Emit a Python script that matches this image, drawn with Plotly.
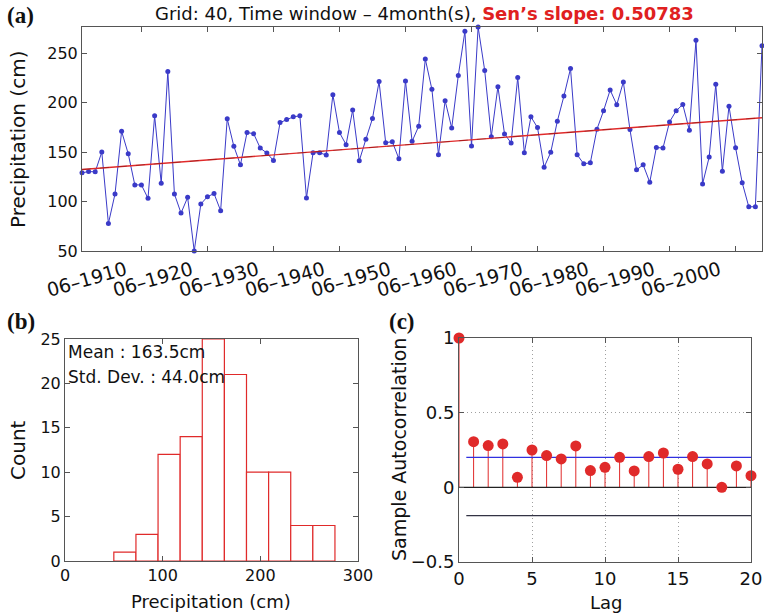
import plotly.graph_objects as go

# ---------------- data ----------------
years = list(range(1901, 2005))
precip = [
    129, 130.3, 130, 150, 77.8, 107.6, 171, 148.3, 116.8, 116.8, 103.2, 186.6, 118.5, 231.4, 107.6, 88.3, 104.2, 50,
    97.5, 104.9, 108, 90.7, 183.6, 155.8, 137.1, 169.7, 168.6, 154, 149, 141.5, 179.8, 182.9, 185.6, 186.6, 103.6,
    149.3, 149.3, 147, 208, 169.7, 157.5, 192.4, 141.2, 162.9, 183.9, 221.2, 159.5, 160.5, 143.2, 221.9, 160.8, 176.1, 244,
    213.4, 147.3, 201.9, 174.4, 227.3, 272, 156.1, 276.4, 232.4, 165.6, 216.1, 168.3, 159.2, 225.3, 149.3, 185.6, 174.7,
    134.7, 149.7, 181.2, 206.6, 234.4, 147.3, 138.1, 139.2, 173.1, 191.7, 212.7, 197.8, 220.8, 172.7, 132, 137.1, 119.5,
    154.7, 154, 180.5, 191.7, 198.1, 172, 262.9, 117.8, 144.9, 218.5, 130.7, 196.4, 154.4, 119.1, 94.7, 94.7, 257.5,
]
sen_slope = 0.50783
trend_start = 132.4
tick_years = list(range(1910, 2001, 10))
y_ticks_a = [50, 100, 150, 200, 250]

hist_counts = [1, 3, 12, 14, 25, 21, 10, 10, 4, 4]
mean_txt = "Mean : 163.5cm"
std_txt = "Std. Dev. : 44.0cm"

lags = list(range(21))
acf = [1.0, 0.306, 0.28, 0.291, 0.067, 0.25, 0.213, 0.19, 0.277, 0.112, 0.134,
       0.201, 0.11, 0.206, 0.23, 0.121, 0.206, 0.157, 0.0, 0.143, 0.078]
bound_upper = 0.2
bound_lower = -0.19

# ---------------- helpers ----------------
W, H = 764, 615
def fx(p):
    return p / W
def fy(p):
    return 1 - p / H

FONT = "DejaVu Sans"
BLUE = "#3a3ac8"
RED = "#e02a2a"
AX = "#555555"

dates = [f"{y}-06-01" for y in years]
tick_dates = [f"{y}-06-01" for y in tick_years]
tick_text = [f"06–{y}" for y in tick_years]
trend = [trend_start + sen_slope * (y - years[0]) for y in years]

fig = go.Figure()

# (a) time series
fig.add_trace(go.Scatter(x=dates, y=precip, mode="lines+markers",
                         line=dict(color=BLUE, width=1), marker=dict(color=BLUE, size=5),
                         cliponaxis=False, xaxis="x", yaxis="y"))
fig.add_trace(go.Scatter(x=dates, y=trend, mode="lines", line=dict(color=RED, width=1.4),
                         xaxis="x", yaxis="y"))
fig.add_trace(go.Scatter(x=dates, y=trend, mode="lines",
                         line=dict(color="rgba(60,0,0,0.45)", width=0.7, dash="dash"),
                         xaxis="x", yaxis="y"))

# (b) histogram
lo, hi = min(precip), max(precip)
bw = (hi - lo) / len(hist_counts)
centers = [lo + bw * (i + 0.5) for i in range(len(hist_counts))]
fig.add_trace(go.Bar(x=centers, y=hist_counts, width=bw,
                     marker=dict(color="white", line=dict(color=RED, width=1.2)),
                     xaxis="x2", yaxis="y2"))

# (c) autocorrelation
sx, sy = [], []
for l, v in zip(lags, acf):
    sx += [l, l, None]
    sy += [0, v, None]
fig.add_trace(go.Scatter(x=sx, y=sy, mode="lines", line=dict(color=RED, width=1),
                         cliponaxis=False, xaxis="x3", yaxis="y3"))
fig.add_trace(go.Scatter(x=[0, 20], y=[0, 0], mode="lines", line=dict(color="#222222", width=1.2),
                         xaxis="x3", yaxis="y3"))
fig.add_trace(go.Scatter(x=[0.5, 20], y=[bound_upper, bound_upper], mode="lines",
                         line=dict(color="#3030e0", width=1.2), xaxis="x3", yaxis="y3"))
fig.add_trace(go.Scatter(x=[0.5, 20], y=[bound_lower, bound_lower], mode="lines",
                         line=dict(color="#333344", width=1.2), xaxis="x3", yaxis="y3"))
fig.add_trace(go.Scatter(x=lags, y=acf, mode="markers", marker=dict(color=RED, size=11),
                         cliponaxis=False, xaxis="x3", yaxis="y3"))

def axc(size=16):
    return dict(showline=True, linecolor=AX, linewidth=1, mirror="allticks",
                ticks="inside", ticklen=5, tickcolor=AX, zeroline=False, automargin=False,
                tickfont=dict(family=FONT, size=size, color="#111"))

GRID = dict(showgrid=True, gridcolor="#a0a0a0", griddash="1px,3px", gridwidth=1)

fig.update_layout(
    width=W, height=H, margin=dict(l=0, r=0, t=0, b=0, pad=0, autoexpand=False),
    paper_bgcolor="white", plot_bgcolor="white", showlegend=False,
    font=dict(family=FONT, color="#111"),
    xaxis=dict(domain=[fx(82), fx(762)], anchor="y", type="date",
               range=[dates[0], dates[-1]], tickvals=tick_dates, ticktext=tick_text,
               tickangle=-16, showgrid=False, ticklabelshift=-16, **axc(19)),
    yaxis=dict(domain=[fy(251), fy(27)], anchor="x", range=[lo, hi],
               tickvals=y_ticks_a, showgrid=False, **axc(16)),
    xaxis2=dict(domain=[fx(65), fx(358)], anchor="y2", range=[0, 300], dtick=100,
                showgrid=False, **axc(16)),
    yaxis2=dict(domain=[fy(561), fy(339)], anchor="x2", range=[0, 25], dtick=5,
                showgrid=False, **axc(16)),
    xaxis3=dict(domain=[fx(459), fx(751)], anchor="y3", range=[0, 20], dtick=5,
                **GRID, **axc(18)),
    yaxis3=dict(domain=[fy(562), fy(338)], anchor="x3", range=[-0.5, 1],
                tickvals=[-0.5, 0, 0.5, 1], ticktext=["−0.5", "0", "0.5", "1"],
                **GRID, **axc(18)),
)

ann = []
def add_text(text, x, y, size, xanchor="center", yanchor="middle", angle=0, family=FONT, color="#111"):
    ann.append(dict(text=text, x=fx(x), y=fy(y), xref="paper", yref="paper",
                    xanchor=xanchor, yanchor=yanchor, textangle=angle, showarrow=False,
                    font=dict(family=family, size=size, color=color)))

add_text("Grid: 40, Time window – 4month(s), <span style='color:#e02020'><b>Sen’s slope: 0.50783</b></span>",
         153, 14, 18, xanchor="left")
add_text("<b>(a)</b>", 5, 15, 23, xanchor="left", family="Liberation Serif")
add_text("<b>(b)</b>", 5, 321, 23, xanchor="left", family="Liberation Serif")
add_text("<b>(c)</b>", 387, 321, 23, xanchor="left", family="Liberation Serif")
add_text("Precipitation (cm)", 18, 140, 20, angle=-90)
add_text("Count", 18, 450, 20, angle=-90)
add_text("Precipitation (cm)", 211, 601, 18)
add_text("Sample Autocorrelation", 399, 449, 19, angle=-90)
add_text("Lag", 606, 602, 18)
add_text(mean_txt, 66, 352, 17, xanchor="left")
add_text(std_txt, 66, 377, 17, xanchor="left")
fig.update_layout(annotations=ann)

fig.write_html("out.html")
